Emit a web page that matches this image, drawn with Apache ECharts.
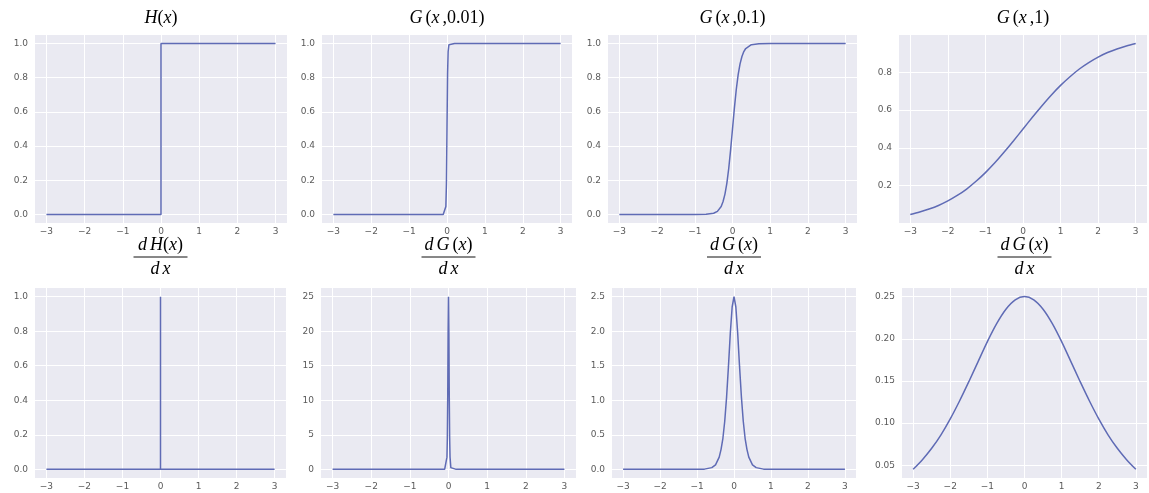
<!DOCTYPE html>
<html>
<head>
<meta charset="utf-8">
<script src="https://cdn.jsdelivr.net/npm/echarts@6/dist/echarts.min.js"></script>
<style>
  html, body { margin: 0; padding: 0; background: #fff; }
  #chart { width: 1149px; height: 493px; }
</style>
</head>
<body>
<div id="chart"></div>
<script>
// tick labels
const xTicks = [-3, -2, -1, 0, 1, 2, 3];
const unitTicks = [0, 0.2, 0.4, 0.6, 0.8, 1.0];
const g1Ticks = [0.2, 0.4, 0.6, 0.8];
const dG001Ticks = [0, 5, 10, 15, 20, 25];
const dG01Ticks = [0, 0.5, 1.0, 1.5, 2.0, 2.5];
const dG1Ticks = [0.05, 0.10, 0.15, 0.20, 0.25];

// H(x)
const hX = [-3, 0, 0, 3];
const hY = [0, 0, 1, 1];
// G(x, 0.01)
const g001X = [-3, -0.2, -0.1, -0.05, -0.03, -0.015, 0, 0.015, 0.03, 0.05, 0.1, 0.2, 3];
const g001Y = [0, 0, 0, 0.007, 0.047, 0.18, 0.5, 0.82, 0.953, 0.993, 1, 1, 1];
// G(x, 0.1)
const g01X = [-3, -1, -0.7, -0.5, -0.4, -0.35, -0.3, -0.25, -0.2, -0.15, -0.1, -0.05, 0,
  0.05, 0.1, 0.15, 0.2, 0.25, 0.3, 0.35, 0.4, 0.5, 0.7, 1, 3];
const g01Y = [0, 0, 0.001, 0.007, 0.018, 0.029, 0.047, 0.076, 0.119, 0.182, 0.269, 0.378, 0.5,
  0.622, 0.731, 0.818, 0.881, 0.924, 0.953, 0.971, 0.982, 0.993, 0.999, 1, 1];
// G(x, 1)
const g1X = [-3, -2.75, -2.5, -2.25, -2, -1.75, -1.5, -1.25, -1, -0.75, -0.5, -0.25, 0,
  0.25, 0.5, 0.75, 1, 1.25, 1.5, 1.75, 2, 2.25, 2.5, 2.75, 3];
const g1Y = [0.047, 0.060, 0.076, 0.095, 0.119, 0.148, 0.182, 0.223, 0.269, 0.321, 0.378, 0.438, 0.5,
  0.562, 0.622, 0.679, 0.731, 0.777, 0.818, 0.852, 0.881, 0.905, 0.924, 0.940, 0.953];
// dH/dx
const dHX = [-3, 0, 0, 0, 3];
const dHY = [0, 0, 1, 0, 0];
// dG/dx, t = 0.01
const dG001X = [-3, -0.2, -0.1, -0.06, -0.04, -0.03, -0.02, -0.01, 0,
  0.01, 0.02, 0.03, 0.04, 0.06, 0.1, 0.2, 3];
const dG001Y = [0, 0, 0, 0.25, 1.77, 4.5, 10.5, 19.7, 25,
  19.7, 10.5, 4.5, 1.77, 0.25, 0, 0, 0];
// dG/dx, t = 0.1
const dG01X = [-3, -1, -0.8, -0.6, -0.5, -0.4, -0.35, -0.3, -0.25, -0.2, -0.15, -0.1, -0.05, 0,
  0.05, 0.1, 0.15, 0.2, 0.25, 0.3, 0.35, 0.4, 0.5, 0.6, 0.8, 1, 3];
const dG01Y = [0, 0.0005, 0.0034, 0.025, 0.066, 0.177, 0.29, 0.45, 0.70, 1.05, 1.49, 1.97, 2.35, 2.5,
  2.35, 1.97, 1.49, 1.05, 0.70, 0.45, 0.29, 0.177, 0.066, 0.025, 0.0034, 0.0005, 0];
// dG/dx, t = 1
const dG1X = [-3, -2.75, -2.5, -2.25, -2, -1.75, -1.5, -1.25, -1, -0.75, -0.5, -0.25, 0,
  0.25, 0.5, 0.75, 1, 1.25, 1.5, 1.75, 2, 2.25, 2.5, 2.75, 3];
const dG1Y = [0.0452, 0.0566, 0.0701, 0.0861, 0.1050, 0.1262, 0.1491, 0.1729, 0.1966, 0.2179, 0.2350, 0.2461, 0.25,
  0.2461, 0.2350, 0.2179, 0.1966, 0.1729, 0.1491, 0.1262, 0.1050, 0.0861, 0.0701, 0.0566, 0.0452];

const panels = [
  { x: hX, y: hY, ticks: unitTicks, min: -0.05, max: 1.05, dec: 1, smooth: false },
  { x: g001X, y: g001Y, ticks: unitTicks, min: -0.05, max: 1.05, dec: 1, smooth: false },
  { x: g01X, y: g01Y, ticks: unitTicks, min: -0.05, max: 1.05, dec: 1, smooth: false },
  { x: g1X, y: g1Y, ticks: g1Ticks, min: 0.0021, max: 0.998, dec: 1, smooth: 0.3 },
  { x: dHX, y: dHY, ticks: unitTicks, min: -0.05, max: 1.05, dec: 1, smooth: false },
  { x: dG001X, y: dG001Y, ticks: dG001Ticks, min: -1.25, max: 26.25, dec: 0, smooth: false },
  { x: dG01X, y: dG01Y, ticks: dG01Ticks, min: -0.125, max: 2.625, dec: 1, smooth: false },
  { x: dG1X, y: dG1Y, ticks: dG1Ticks, min: 0.0349, max: 0.2602, dec: 2, smooth: 0.3 }
];

// plot boxes [left, right]
const topY = 35, topH = 188;
const botY = 288, botH = 190;
const boxes = [
  [35, 287], [322, 572], [608, 857], [899, 1147],
  [35, 286], [321, 576], [612, 856], [902, 1147]
];

const minus = s => String(s).replace('-', '\u2212');
const lineColor = '#5f6bb5';
const labelColor = '#5a5a5a';

const grid = [], xAxis = [], yAxis = [], series = [];
panels.forEach((p, i) => {
  const b = boxes[i];
  grid.push({
    left: b[0], top: i < 4 ? topY : botY, width: b[1] - b[0], height: i < 4 ? topH : botH,
    show: true, backgroundColor: '#eaeaf2', borderWidth: 0
  });
  xAxis.push({
    type: 'value', gridIndex: i, min: -3.3, max: 3.3,
    axisLine: { show: false },
    axisTick: { show: false, customValues: xTicks },
    axisLabel: { customValues: xTicks, color: labelColor, fontSize: 9, margin: 4,
      fontFamily: 'DejaVu Sans', formatter: v => minus(v) },
    splitLine: { show: true, lineStyle: { color: '#fff', width: 1 } }
  });
  yAxis.push({
    type: 'value', gridIndex: i, min: p.min, max: p.max,
    axisLine: { show: false },
    axisTick: { show: false, customValues: p.ticks },
    axisLabel: { customValues: p.ticks, color: labelColor, fontSize: 9, margin: 7,
      fontFamily: 'DejaVu Sans', formatter: v => minus(v.toFixed(p.dec)) },
    splitLine: { show: true, lineStyle: { color: '#fff', width: 1 } }
  });
  series.push({
    type: 'line', xAxisIndex: i, yAxisIndex: i, showSymbol: false, symbol: 'none',
    smooth: p.smooth, animation: false,
    lineStyle: { color: lineColor, width: 1.5 },
    data: p.x.map((v, k) => [v, p.y[k]])
  });
});

const serif = '"Liberation Serif", "DejaVu Serif", serif';
const rich = {
  i: { fontFamily: serif, fontStyle: 'italic', fontSize: 18, color: '#111' },
  n: { fontFamily: serif, fontSize: 18, color: '#111' },
  s: { fontFamily: serif, fontSize: 18, color: '#111', width: 3 }
};
const topTitles = [
  '{i|H}{n|(}{i|x}{n|)}',
  '{i|G}{s|}{n|(}{i|x}{s|}{n|,0.01)}',
  '{i|G}{s|}{n|(}{i|x}{s|}{n|,0.1)}',
  '{i|G}{s|}{n|(}{i|x}{s|}{n|,1)}'
];
const numerators = [
  '{i|d}{s|}{i|H}{n|(}{i|x}{n|)}',
  '{i|d}{s|}{i|G}{s|}{n|(}{i|x}{n|)}',
  '{i|d}{s|}{i|G}{s|}{n|(}{i|x}{n|)}',
  '{i|d}{s|}{i|G}{s|}{n|(}{i|x}{n|)}'
];

const graphic = [];
for (let i = 0; i < 4; i++) {
  const c = (boxes[i][0] + boxes[i][1]) / 2;
  graphic.push({ type: 'text', x: c, y: 18,
    style: { text: topTitles[i], rich, align: 'center', verticalAlign: 'middle' } });
  const cb = (boxes[i + 4][0] + boxes[i + 4][1]) / 2;
  graphic.push({ type: 'text', x: cb, y: 245,
    style: { text: numerators[i], rich, align: 'center', verticalAlign: 'middle' } });
  graphic.push({ type: 'line', shape: { x1: cb - 27, y1: 257, x2: cb + 27, y2: 257 },
    style: { stroke: '#111', lineWidth: 1 } });
  graphic.push({ type: 'text', x: cb, y: 269,
    style: { text: '{i|d}{s|}{i|x}', rich, align: 'center', verticalAlign: 'middle' } });
}

const chart = echarts.init(document.getElementById('chart'));
chart.setOption({
  backgroundColor: '#fff',
  animation: false,
  grid, xAxis, yAxis, series, graphic
});
</script>
</body>
</html>
